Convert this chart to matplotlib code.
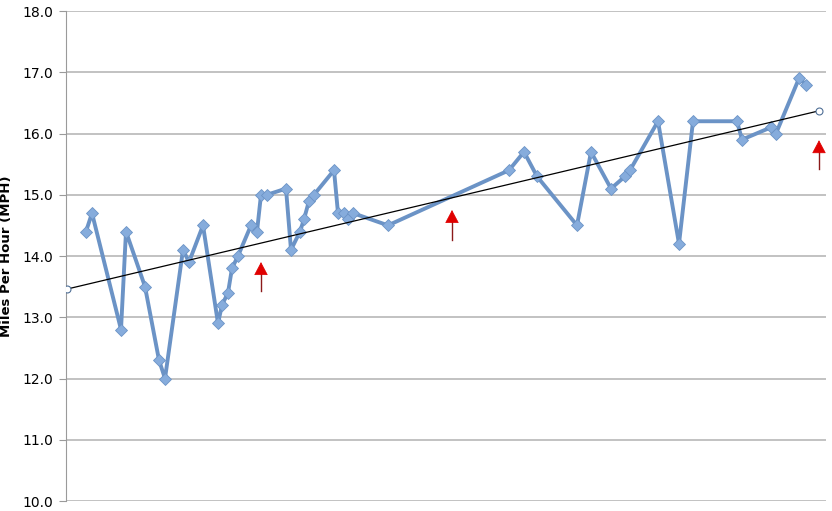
import numpy as np
import matplotlib
matplotlib.use("Agg")
import matplotlib.pyplot as plt

# ride position along the season (arbitrary day units) and average speed
days = [20, 26, 55, 60, 79, 93, 99, 117, 123, 137, 152, 156, 162, 166, 172,
        185, 191, 195, 201, 220, 225, 234, 238, 243, 248, 268, 272, 278, 282,
        287, 322, 443, 458, 471, 511, 525, 545, 559, 564, 592, 613, 627, 671,
        676, 705, 710, 733, 740]
mph = [14.4, 14.7, 12.8, 14.4, 13.5, 12.3, 12.0, 14.1, 13.9, 14.5, 12.9, 13.2,
       13.4, 13.8, 14.0, 14.5, 14.4, 15.0, 15.0, 15.1, 14.1, 14.4, 14.6, 14.9,
       15.0, 15.4, 14.7, 14.7, 14.6, 14.7, 14.5, 15.4, 15.7, 15.3, 14.5, 15.7,
       15.1, 15.3, 15.4, 16.2, 14.2, 16.2, 16.2, 15.9, 16.1, 16.0, 16.9, 16.8]

# linear trend end points as shown
trend_days = [1, 753]
trend_mph = [13.46, 16.37]

# red arrows: x, tail, tip
arrow_days = [195, 386, 753]
arrow_tail = [13.43, 14.26, 15.42]
arrow_tip = [13.90, 14.75, 15.89]

fig = plt.figure(figsize=(8.32, 5.11), dpi=100)
ax = fig.add_axes([66 / 832, 10 / 511, 760 / 832, 490 / 511])

ax.plot(days, mph, color="#6b93c6", linewidth=2.8, marker="D", markersize=6,
        markerfacecolor="#86acdc", markeredgecolor="#6b93c6", markeredgewidth=0.6,
        zorder=3)
ax.plot(trend_days, trend_mph, color="black", linewidth=0.9, marker="o",
        markersize=5, markerfacecolor="white", markeredgecolor="#4f6f96",
        markeredgewidth=0.8, zorder=4)

for x, y0, y1 in zip(arrow_days, arrow_tail, arrow_tip):
    ax.plot([x, x], [y0, y1 - 0.15], color="#8b1a1a", linewidth=1.0, zorder=5)
    ax.annotate("", xy=(x, y1), xytext=(x, y1 - 0.2),
                arrowprops=dict(arrowstyle="-|>,head_length=0.85,head_width=0.45",
                                color="#e00000", lw=0.5,
                                shrinkA=0, shrinkB=0), zorder=6)

ax.set_xlim(0, 760)
ax.set_ylim(10, 18)
ax.set_yticks(np.arange(10, 18.01, 1))
ax.set_yticklabels([f"{v:.1f}" for v in np.arange(10, 18.01, 1)], fontsize=10)
ax.set_xticks([])
ax.grid(axis="y", color="#b8b8b8", linewidth=1.2)
ax.set_axisbelow(True)
for s in ["top", "right", "bottom"]:
    ax.spines[s].set_visible(False)
ax.spines["left"].set_color("#9a9a9a")
ax.tick_params(axis="y", length=5, color="#9a9a9a", pad=4)
ax.set_ylabel("Miles Per Hour (MPH)", fontsize=9.5, fontweight="bold", labelpad=7)

fig.savefig("out.png", dpi=100)
